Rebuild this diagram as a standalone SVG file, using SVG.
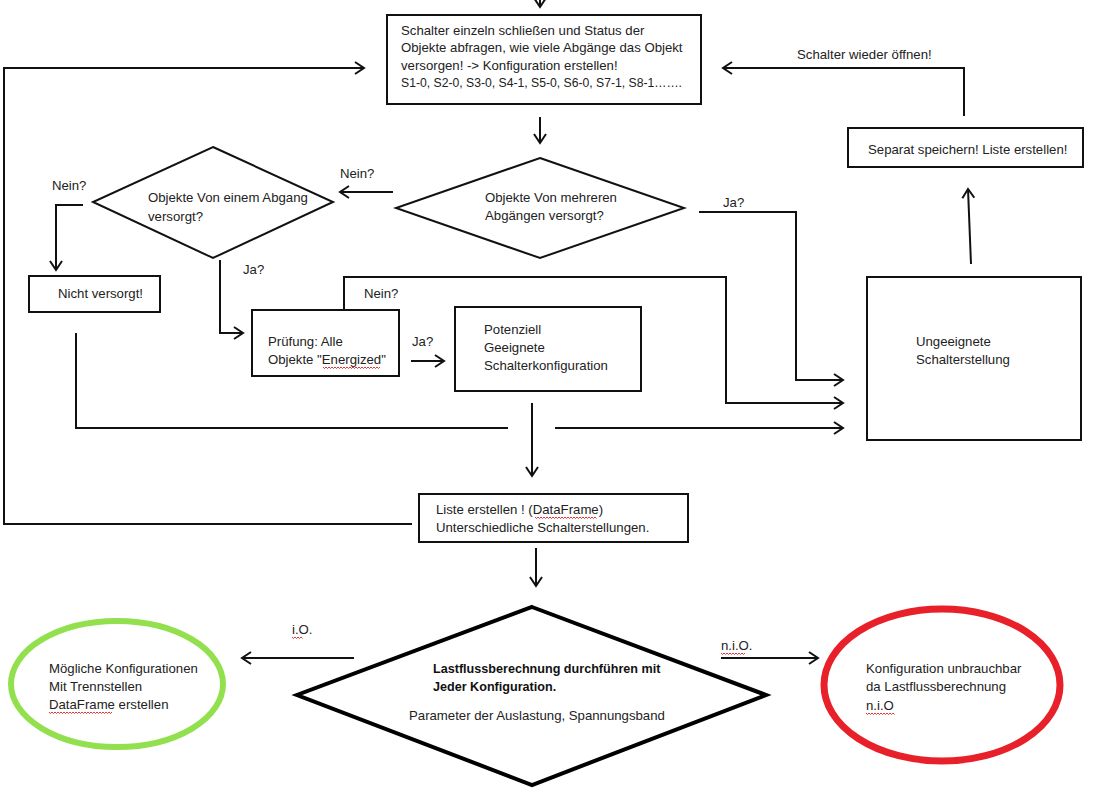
<svg xmlns="http://www.w3.org/2000/svg" width="1114" height="801" viewBox="0 0 1114 801">
<defs>
<style>
text{font-family:"Liberation Sans",Arial,sans-serif;font-size:13.2px;fill:#222}
.b{font-weight:bold;font-size:12.6px;fill:#111}
.box{fill:#fff;stroke:#111;stroke-width:2}
.con{fill:none;stroke:#111;stroke-width:2}
.sq{fill:none;stroke:#e02020;stroke-width:0.9}
</style>
<marker id="ah" markerUnits="userSpaceOnUse" markerWidth="14" markerHeight="14" viewBox="-11 -7 13 14" refX="0" refY="0" orient="auto">
<path d="M-9,-6 L0,0 L-9,6" fill="none" stroke="#111" stroke-width="2"/>
</marker>
</defs>
<rect width="1114" height="801" fill="#fff"/>

<g id="connectors">
<path class="con" d="M540,-2 V7" marker-end="url(#ah)"/>
<path class="con" d="M540,117 V143" marker-end="url(#ah)"/>
<path class="con" d="M393,192 H340" marker-end="url(#ah)"/>
<path class="con" d="M83,205 H56 V270" marker-end="url(#ah)"/>
<path class="con" d="M220,260 V333 H243" marker-end="url(#ah)"/>
<path class="con" d="M344,310 V277 H726 V403 H843" marker-end="url(#ah)"/>
<path class="con" d="M411,361 H444" marker-end="url(#ah)"/>
<path class="con" d="M699,212 H796 V380 H843" marker-end="url(#ah)"/>
<path class="con" d="M76,333 V428 H508"/>
<path class="con" d="M555,428 H843" marker-end="url(#ah)"/>
<path class="con" d="M532,403 V476" marker-end="url(#ah)"/>
<path class="con" d="M412,524 H4 V68 H364" marker-end="url(#ah)"/>
<path class="con" d="M536,548 V586" marker-end="url(#ah)"/>
<path class="con" d="M354,658 H242" marker-end="url(#ah)"/>
<path class="con" d="M721,658 H818" marker-end="url(#ah)"/>
<path class="con" d="M971,264 L968,189" marker-end="url(#ah)"/>
<path class="con" d="M964,116 V68 H723" marker-end="url(#ah)"/>
<text x="340" y="177.5">Nein?</text>
<text x="52" y="189.5">Nein?</text>
<text x="243" y="273.5">Ja?</text>
<text x="364" y="297.5">Nein?</text>
<text x="412" y="345.5">Ja?</text>
<text x="723" y="206.5">Ja?</text>
<text x="797" y="58.5">Schalter wieder öffnen!</text>
<text x="292" y="633.5">i.O.</text>
<path class="sq" d="M292,637 l1.5,1.5 l1.5,-1.5 l1.5,1.5 l1.5,-1.5 l1.5,1.5 l1.5,-1.5 l1.5,1.5"/>
<text x="721" y="649.5">n.i.O.</text>
<path class="sq" d="M721,653 l1.5,1.5 l1.5,-1.5 l1.5,1.5 l1.5,-1.5 l1.5,1.5 l1.5,-1.5 l1.5,1.5 l1.5,-1.5 l1.5,1.5 l1.5,-1.5 l1.5,1.5 l1.5,-1.5 l1.5,1.5 l1.5,-1.5 l1.5,1.5 l1.5,-1.5"/>
</g>

<g id="n-start">
<rect class="box" x="387" y="15" width="314" height="89"/>
<text x="401" y="34.5">Schalter einzeln schließen und Status der</text>
<text x="401" y="52.1">Objekte abfragen, wie viele Abgänge das Objekt</text>
<text x="401" y="69.7">versorgen! -&gt; Konfiguration erstellen!</text>
<text x="401" y="87.3" textLength="281" lengthAdjust="spacingAndGlyphs">S1-0, S2-0, S3-0, S4-1, S5-0, S6-0, S7-1, S8-1…….</text>
</g>

<g id="n-mehrere">
<polygon class="box" points="540,158 684,208 540,258 396,208"/>
<text x="485" y="201.5">Objekte Von mehreren</text>
<text x="485" y="219.5">Abgängen versorgt?</text>
</g>

<g id="n-einem">
<polygon class="box" points="213,147 333,202 213,258 93,202"/>
<text x="148" y="201.5">Objekte Von einem Abgang</text>
<text x="148" y="220.5">versorgt?</text>
</g>

<g id="n-nicht">
<rect class="box" x="29" y="276" width="131" height="36"/>
<text x="58" y="297.5">Nicht versorgt!</text>
</g>

<g id="n-pruefung">
<rect class="box" x="252" y="310" width="147" height="66"/>
<text x="268" y="345.5">Prüfung: Alle</text>
<text x="268" y="363.5">Objekte "Energized"</text>
<path class="sq" d="M323,367 l1.5,1.5 l1.5,-1.5 l1.5,1.5 l1.5,-1.5 l1.5,1.5 l1.5,-1.5 l1.5,1.5 l1.5,-1.5 l1.5,1.5 l1.5,-1.5 l1.5,1.5 l1.5,-1.5 l1.5,1.5 l1.5,-1.5 l1.5,1.5 l1.5,-1.5 l1.5,1.5 l1.5,-1.5 l1.5,1.5 l1.5,-1.5 l1.5,1.5 l1.5,-1.5 l1.5,1.5 l1.5,-1.5 l1.5,1.5 l1.5,-1.5 l1.5,1.5 l1.5,-1.5 l1.5,1.5 l1.5,-1.5 l1.5,1.5 l1.5,-1.5 l1.5,1.5 l1.5,-1.5 l1.5,1.5 l1.5,-1.5 l1.5,1.5 l1.5,-1.5"/>
</g>

<g id="n-potenziell">
<rect class="box" x="455" y="307" width="186" height="84"/>
<text x="484" y="333.5">Potenziell</text>
<text x="484" y="351.5">Geeignete</text>
<text x="484" y="369.5">Schalterkonfiguration</text>
</g>

<g id="n-ungeeignet">
<rect class="box" x="867" y="277" width="214" height="163"/>
<text x="916" y="345.5">Ungeeignete</text>
<text x="916" y="363.5">Schalterstellung</text>
</g>

<g id="n-separat">
<rect class="box" x="848" y="128" width="235" height="39"/>
<text x="868" y="153.5">Separat speichern! Liste erstellen!</text>
</g>

<g id="n-liste">
<rect class="box" x="419" y="494" width="269" height="48"/>
<text x="436" y="513.5">Liste erstellen ! (DataFrame)</text>
<path class="sq" d="M535,517 l1.5,1.5 l1.5,-1.5 l1.5,1.5 l1.5,-1.5 l1.5,1.5 l1.5,-1.5 l1.5,1.5 l1.5,-1.5 l1.5,1.5 l1.5,-1.5 l1.5,1.5 l1.5,-1.5 l1.5,1.5 l1.5,-1.5 l1.5,1.5 l1.5,-1.5 l1.5,1.5 l1.5,-1.5 l1.5,1.5 l1.5,-1.5 l1.5,1.5 l1.5,-1.5 l1.5,1.5 l1.5,-1.5 l1.5,1.5 l1.5,-1.5 l1.5,1.5 l1.5,-1.5 l1.5,1.5 l1.5,-1.5 l1.5,1.5 l1.5,-1.5 l1.5,1.5 l1.5,-1.5 l1.5,1.5 l1.5,-1.5 l1.5,1.5 l1.5,-1.5 l1.5,1.5 l1.5,-1.5 l1.5,1.5"/>
<text x="436" y="531.5">Unterschiedliche Schalterstellungen.</text>
</g>

<g id="n-lastfluss">
<polygon points="532,607 766,695 532,785 297,695" fill="#fff" stroke="#000" stroke-width="4" stroke-linejoin="miter"/>
<text class="b" x="433" y="672.5">Lastflussberechnung durchführen mit</text>
<text class="b" x="433" y="690.5">Jeder Konfiguration.</text>
<text x="409" y="719.5">Parameter der Auslastung, Spannungsband</text>
</g>

<g id="n-moeglich">
<ellipse cx="117" cy="684" rx="106" ry="63" fill="#fff" stroke="#93E04E" stroke-width="6"/>
<text x="49" y="672.5">Mögliche Konfigurationen</text>
<text x="49" y="690.5">Mit Trennstellen</text>
<text x="49" y="708.5">DataFrame erstellen</text>
<path class="sq" d="M49,712 l1.5,1.5 l1.5,-1.5 l1.5,1.5 l1.5,-1.5 l1.5,1.5 l1.5,-1.5 l1.5,1.5 l1.5,-1.5 l1.5,1.5 l1.5,-1.5 l1.5,1.5 l1.5,-1.5 l1.5,1.5 l1.5,-1.5 l1.5,1.5 l1.5,-1.5 l1.5,1.5 l1.5,-1.5 l1.5,1.5 l1.5,-1.5 l1.5,1.5 l1.5,-1.5 l1.5,1.5 l1.5,-1.5 l1.5,1.5 l1.5,-1.5 l1.5,1.5 l1.5,-1.5 l1.5,1.5 l1.5,-1.5 l1.5,1.5 l1.5,-1.5 l1.5,1.5 l1.5,-1.5 l1.5,1.5 l1.5,-1.5 l1.5,1.5 l1.5,-1.5 l1.5,1.5 l1.5,-1.5 l1.5,1.5 l1.5,-1.5"/>
</g>

<g id="n-unbrauchbar">
<ellipse cx="942" cy="685" rx="118" ry="76" fill="#fff" stroke="#E8202A" stroke-width="7"/>
<text x="866" y="672.5">Konfiguration unbrauchbar</text>
<text x="866" y="691">da Lastflussberechnung</text>
<text x="866" y="709.5">n.i.O</text>
<path class="sq" d="M866,713 l1.5,1.5 l1.5,-1.5 l1.5,1.5 l1.5,-1.5 l1.5,1.5 l1.5,-1.5 l1.5,1.5 l1.5,-1.5 l1.5,1.5 l1.5,-1.5 l1.5,1.5 l1.5,-1.5 l1.5,1.5 l1.5,-1.5 l1.5,1.5 l1.5,-1.5 l1.5,1.5 l1.5,-1.5 l1.5,1.5"/>
</g>
</svg>
